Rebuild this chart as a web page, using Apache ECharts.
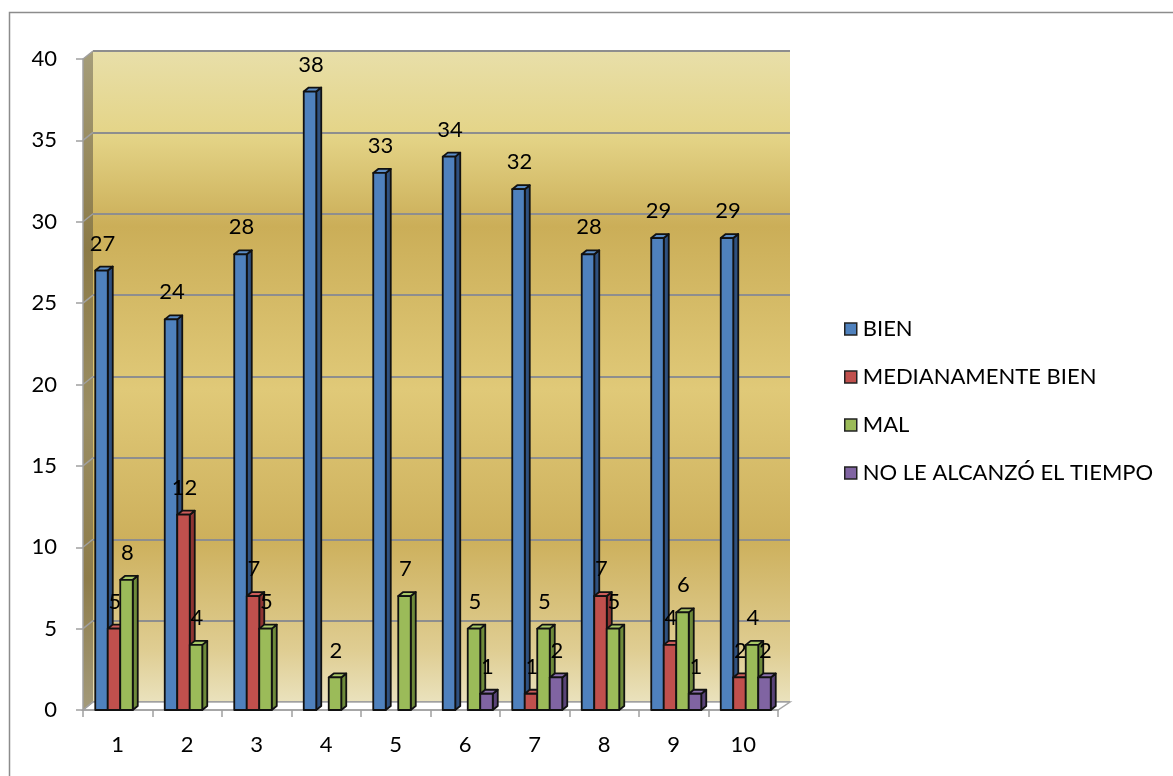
<!DOCTYPE html>
<html>
<head>
<meta charset="utf-8">
<script src="https://cdn.jsdelivr.net/npm/echarts@6/dist/echarts.min.js"></script>
<style>
  html, body { margin: 0; padding: 0; background: #fff; }
  #chart { width: 1173px; height: 776px; }
</style>
</head>
<body>
<div id="chart"></div>
<script>
// Survey results per question (1–10)
const categories = ['1', '2', '3', '4', '5', '6', '7', '8', '9', '10'];
const seriesNames = ['BIEN', 'MEDIANAMENTE BIEN', 'MAL', 'NO LE ALCANZÓ EL TIEMPO'];
const bien        = [27, 24, 28, 38, 33, 34, 32, 28, 29, 29];
const medianamente = [5, 12, 7, 0, 0, 0, 1, 7, 4, 2];
const mal         = [8, 4, 5, 2, 7, 5, 5, 5, 6, 4];
const noAlcanzo   = [0, 0, 0, 0, 0, 1, 2, 0, 1, 2];
const yTicks = [0, 5, 10, 15, 20, 25, 30, 35, 40];

const seriesValues = [bien, medianamente, mal, noAlcanzo];
const fronts = ['#4F81BD', '#C0504D', '#9BBB59', '#8064A2'];
const tops   = ['#5B8CC6', '#CC5D5A', '#A8C866', '#8C70AE'];
const sides  = ['#2F5180', '#8E3432', '#6E8A3A', '#594377'];

const FONT = 'Lato, "Open Sans", sans-serif';
const FS = 22;
const BW = 12.5;     // bar front width
const SHIFT = 2.5;   // bar group offset from category centre
const DX = 5, DY = 4;            // bar depth
const WDX = 10, WDY = 8;         // wall depth
const EDGE = '#111';

const chart = echarts.init(document.getElementById('chart'));

function barRenderer(si) {
  return function (params, api) {
    const cat = api.value(0), v = api.value(1);
    if (!v) return { type: 'group', children: [] };
    const base = api.coord([cat, 0]);
    const topPt = api.coord([cat, v]);
    const x0 = base[0] + SHIFT + (si - 1.5) * BW - BW / 2;
    const x1 = x0 + BW;
    const yb = base[1], yt = topPt[1];
    const stroke = { stroke: EDGE, lineWidth: 1.8, lineJoin: 'round' };
    return {
      type: 'group',
      children: [
        { type: 'polygon', shape: { points: [[x1, yt], [x1 + DX, yt - DY], [x1 + DX, yb - DY], [x1, yb]] },
          style: Object.assign({ fill: sides[si] }, stroke) },
        { type: 'polygon', shape: { points: [[x0, yt], [x0 + DX, yt - DY], [x1 + DX, yt - DY], [x1, yt]] },
          style: Object.assign({ fill: tops[si] }, stroke) },
        { type: 'rect', shape: { x: x0, y: yt, width: BW, height: yb - yt },
          style: Object.assign({ fill: fronts[si] }, stroke) },
        { type: 'text', x: (x0 + x1) / 2 + 1, y: yt - 27,
          style: { text: String(v), fill: '#000', font: FS + 'px ' + FONT, align: 'center', verticalAlign: 'middle' } }
      ]
    };
  };
}

// Side wall, floor and the depth connectors of the value axis ticks
function frameRenderer(params, api) {
  const band = api.size([1, 0])[0];
  const left = api.coord([0, 0])[0] - band / 2;
  const right = api.coord([categories.length - 1, 0])[0] + band / 2;
  const y0 = api.coord([0, 0])[1];
  const yTop = api.coord([0, yTicks[yTicks.length - 1]])[1];
  const children = [
    { type: 'polygon', shape: { points: [[left, yTop], [left + WDX, yTop - WDY], [left + WDX, y0 - WDY], [left, y0]] },
      style: { fill: new echarts.graphic.LinearGradient(0, 0, 0, 1, [
        { offset: 0, color: '#A59D7A' }, { offset: 0.3, color: '#8C7A46' },
        { offset: 0.55, color: '#9A8D63' }, { offset: 0.8, color: '#8E7C4A' }, { offset: 1, color: '#A39A7A' }]) } },
    { type: 'polygon', shape: { points: [[left, y0], [left + WDX, y0 - WDY], [right + WDX + 2, y0 - WDY], [right, y0]] },
      style: { fill: '#FFFFFF', stroke: '#A6A6A6', lineWidth: 1.5 } }
  ];
  yTicks.forEach(function (t) {
    const y = api.coord([0, t])[1];
    children.push({ type: 'line', shape: { x1: left, y1: y, x2: left + WDX, y2: y - WDY },
      style: { stroke: '#A0A0A0', lineWidth: 1.5 } });
  });
  return { type: 'group', children: children };
}

const series = [{
  type: 'custom', xAxisIndex: 0, yAxisIndex: 0, z: 1, silent: true,
  renderItem: frameRenderer, data: [[0, 0]], legendHoverLink: false
}];
seriesNames.forEach(function (name, si) {
  series.push({
    name: name, type: 'custom', xAxisIndex: 0, yAxisIndex: 0, z: 3 + si,
    renderItem: barRenderer(si),
    itemStyle: { color: fronts[si], borderColor: EDGE, borderWidth: 1.5 },
    encode: { x: 0, y: 1 },
    data: seriesValues[si].map(function (v, i) { return [i, v]; })
  });
});

chart.setOption({
  animation: false,
  textStyle: { fontFamily: FONT },
  graphic: [{
    type: 'rect', shape: { x: 9.5, y: 12.5, width: 1300, height: 900 },
    style: { fill: 'none', stroke: '#8C8C8C', lineWidth: 1.5 }, z: 100, silent: true
  }],
  legend: {
    orient: 'vertical', left: 839, top: 313,
    icon: 'rect', itemWidth: 12, itemHeight: 12, itemGap: 26,
    itemStyle: { borderColor: '#222', borderWidth: 1.5 },
    textStyle: { fontSize: FS, color: '#000', fontFamily: FONT, lineHeight: 22, padding: [0, 0, 0, 1] },
    data: seriesNames
  },
  grid: [
    { left: 83, right: 395, top: 59, bottom: 66 },
    { left: 93, right: 383, top: 51, bottom: 74, show: true, borderWidth: 0, z: 0,
      backgroundColor: new echarts.graphic.LinearGradient(0, 0, 0, 1, [
        { offset: 0, color: '#E8DFA9' }, { offset: 0.13, color: '#E4D487' },
        { offset: 0.27, color: '#CBAE58' }, { offset: 0.52, color: '#E0C978' },
        { offset: 0.75, color: '#CDB05C' }, { offset: 0.92, color: '#DFCD92' },
        { offset: 1, color: '#EAE2BD' }]) }
  ],
  xAxis: [
    { type: 'category', gridIndex: 0, data: categories, boundaryGap: true, z: 2,
      axisLine: { lineStyle: { color: '#A0A0A0', width: 1.5 } },
      axisTick: { show: true, interval: 0, length: 7, lineStyle: { color: '#A0A0A0', width: 1.5 } },
      axisLabel: { color: '#000', fontSize: FS, margin: 24, fontFamily: FONT, interval: 0 } },
    { type: 'category', gridIndex: 1, data: categories, show: false }
  ],
  yAxis: [
    { type: 'value', gridIndex: 0, min: 0, max: 40, interval: 5, z: 2,
      axisLine: { show: true, lineStyle: { color: '#A0A0A0', width: 1.5 } },
      axisTick: { show: true, length: 7, lineStyle: { color: '#A0A0A0', width: 1.5 } },
      axisLabel: { color: '#000', fontSize: FS, margin: 26, fontFamily: FONT },
      splitLine: { show: false } },
    { type: 'value', gridIndex: 1, min: 0, max: 40, interval: 5,
      axisLine: { show: false }, axisTick: { show: false }, axisLabel: { show: false },
      splitLine: { show: true, lineStyle: { color: '#8E8E8E', width: 2 } } }
  ],
  series: series
});
</script>
</body>
</html>
